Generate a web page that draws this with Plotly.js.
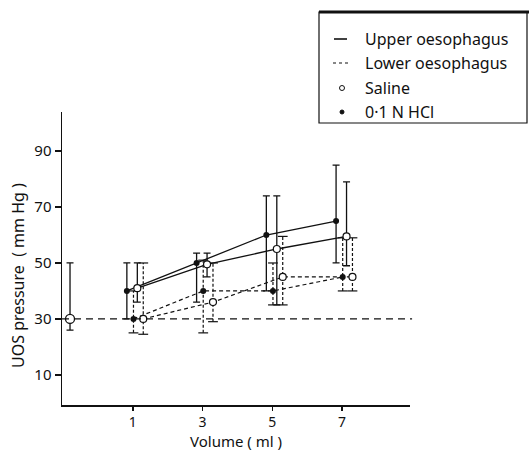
<!DOCTYPE html>
<html>
<head>
<meta charset="utf-8">
<script src="https://cdn.plot.ly/plotly-3.0.1.min.js"></script>
<style>html,body{margin:0;padding:0;background:#fff;}#chart{width:529px;height:451px;}</style>
</head>
<body>
<div id="chart"></div>
<script>
// ---- data ----
const volumes = [1, 3, 5, 7];

const upperHCl       = [40, 50, 60, 65];
const upperHClPlus   = [10, 3.5, 14, 20];
const upperHClMinus  = [10, 14, 20, 15];

const upperSaline      = [41, 49.5, 55, 59.5];
const upperSalinePlus  = [9, 4, 19, 19.5];
const upperSalineMinus = [5, 4.5, 20, 10.5];

const lowerHCl      = [30, 40, 40, 45];
const lowerHClPlus  = [10, 11, 10, 14];
const lowerHClMinus = [5, 15, 5, 5];

const lowerSaline      = [30, 36, 45, 45];
const lowerSalinePlus  = [20, 14, 14.5, 14];
const lowerSalineMinus = [5.5, 7, 10, 5];

const baselineValue = [30];
const baselinePlus  = [20];
const baselineMinus = [4];

const xTicks = [1, 3, 5, 7];
const yTicks = [10, 30, 50, 70, 90];

const legendItems = ['Upper oesophagus', 'Lower oesophagus', 'Saline', '0·1 N HCl'];
const xTitle = 'Volume ( ml )';
const yTitle = 'UOS pressure  ( mm Hg )';

// ---- layout positions / styles ----
const offsets = {upperHCl: -0.17, lowerHCl: 0.02, upperSaline: 0.13, lowerSaline: 0.3};
const baselineX = -0.8;
const FONT = 'Noto Sans, DejaVu Sans, sans-serif';
const BLACK = '#111';

function shift(xs, d) { return xs.map(v => v + d); }

function dashedBarTraces(xs, vals, plus, minus) {
  const bx = [], by = [], cx = [], cy = [];
  for (let i = 0; i < xs.length; i++) {
    bx.push(xs[i], xs[i], null);
    by.push(vals[i] - minus[i], vals[i] + plus[i], null);
    cx.push(xs[i], xs[i]);
    cy.push(vals[i] - minus[i], vals[i] + plus[i]);
  }
  return [
    {x: bx, y: by, mode: 'lines', line: {color: BLACK, width: 1.2, dash: '3px,2px'}, hoverinfo: 'skip', showlegend: false},
    {x: cx, y: cy, mode: 'markers', marker: {symbol: 'line-ew', size: 7, line: {color: BLACK, width: 1.2}}, hoverinfo: 'skip', showlegend: false}
  ];
}

const xUH = shift(volumes, offsets.upperHCl);
const xUS = shift(volumes, offsets.upperSaline);
const xLH = shift(volumes, offsets.lowerHCl);
const xLS = shift(volumes, offsets.lowerSaline);

const traces = [];
traces.push(...dashedBarTraces(xLH, lowerHCl, lowerHClPlus, lowerHClMinus));
traces.push(...dashedBarTraces(xLS, lowerSaline, lowerSalinePlus, lowerSalineMinus));

traces.push({x: xLH, y: lowerHCl, mode: 'lines', line: {color: BLACK, width: 1.2, dash: '4px,3px'}, showlegend: false});
traces.push({x: xLS, y: lowerSaline, mode: 'lines', line: {color: BLACK, width: 1.2, dash: '4px,3px'}, showlegend: false});

traces.push({x: xUH, y: upperHCl, mode: 'lines', line: {color: BLACK, width: 1.3},
  error_y: {type: 'data', symmetric: false, array: upperHClPlus, arrayminus: upperHClMinus, color: BLACK, thickness: 1.3, width: 3.5},
  showlegend: false});
traces.push({x: xUS, y: upperSaline, mode: 'lines', line: {color: BLACK, width: 1.3},
  error_y: {type: 'data', symmetric: false, array: upperSalinePlus, arrayminus: upperSalineMinus, color: BLACK, thickness: 1.3, width: 3.5},
  showlegend: false});

traces.push({x: [baselineX], y: baselineValue, mode: 'markers',
  marker: {symbol: 'circle', size: 9, color: '#fff', line: {color: BLACK, width: 1.3}},
  error_y: {type: 'data', symmetric: false, array: baselinePlus, arrayminus: baselineMinus, color: BLACK, thickness: 1.3, width: 3.5},
  showlegend: false});

traces.push({x: xUH, y: upperHCl, mode: 'markers', marker: {symbol: 'circle', size: 6, color: BLACK}, showlegend: false});
traces.push({x: xLH, y: lowerHCl, mode: 'markers', marker: {symbol: 'circle', size: 6, color: BLACK}, showlegend: false});
traces.push({x: xUS, y: upperSaline, mode: 'markers', marker: {symbol: 'circle', size: 7, color: '#fff', line: {color: BLACK, width: 1.2}}, showlegend: false});
traces.push({x: xLS, y: lowerSaline, mode: 'markers', marker: {symbol: 'circle', size: 7, color: '#fff', line: {color: BLACK, width: 1.2}}, showlegend: false});

// paper coords helpers (plot area 62..410 px, 112..405 px)
function px(x) { return (x - 62) / 348; }
function py(y) { return (405 - y) / 293; }

const legendY = [39, 63, 88, 112];

const shapes = [
  {type: 'line', xref: 'paper', yref: 'y', x0: 0, x1: 1.006, y0: 30, y1: 30, line: {color: BLACK, width: 1.2, dash: '7px,5px'}},
  {type: 'rect', xref: 'paper', yref: 'paper', x0: px(319), x1: px(527), y0: py(123), y1: py(12), line: {color: BLACK, width: 1.2}},
  {type: 'line', xref: 'paper', yref: 'paper', x0: px(319), x1: px(529), y0: py(12), y1: py(12), line: {color: BLACK, width: 3}},
  {type: 'line', xref: 'paper', yref: 'paper', x0: px(334), x1: px(347), y0: py(legendY[0]), y1: py(legendY[0]), line: {color: BLACK, width: 1.6}},
  {type: 'line', xref: 'paper', yref: 'paper', x0: px(333), x1: px(349), y0: py(legendY[1]), y1: py(legendY[1]), line: {color: BLACK, width: 1.2, dash: '3px,3px'}},
  {type: 'circle', xref: 'paper', yref: 'paper', x0: px(339.5), x1: px(344.5), y0: py(legendY[2] + 2.5), y1: py(legendY[2] - 2.5), line: {color: BLACK, width: 1}},
  {type: 'circle', xref: 'paper', yref: 'paper', x0: px(340), x1: px(344), y0: py(legendY[3] + 2), y1: py(legendY[3] - 2), fillcolor: BLACK, line: {color: BLACK, width: 1}}
];

const annotations = legendItems.map((t, i) => ({
  text: t, xref: 'paper', yref: 'paper', x: px(363), y: py(legendY[i]), xanchor: 'left', yanchor: 'middle',
  showarrow: false, font: {family: FONT, size: 16, color: BLACK}
}));
annotations.push({
  text: yTitle, xref: 'paper', yref: 'paper', x: px(18), y: py(276), xanchor: 'center', yanchor: 'middle',
  textangle: -90, showarrow: false, font: {family: FONT, size: 16, color: BLACK}
});
annotations.push({
  text: xTitle, xref: 'paper', yref: 'paper', x: px(236), y: py(441), xanchor: 'center', yanchor: 'middle',
  borderpad: 0, showarrow: false, font: {family: FONT, size: 15, color: BLACK}
});

const layout = {
  width: 529, height: 451,
  margin: {l: 62, r: 119, t: 112, b: 46},
  paper_bgcolor: '#fff', plot_bgcolor: '#fff',
  font: {family: FONT, size: 15, color: BLACK},
  showlegend: false,
  xaxis: {
    range: [-1.03, 8.95], tickvals: xTicks, ticktext: xTicks.map(String),
    showgrid: false, zeroline: false, showline: true, linecolor: BLACK, linewidth: 1.5,
    ticks: 'outside', ticklen: 4, tickwidth: 1.5, tickcolor: BLACK,
    tickfont: {family: FONT, size: 14, color: BLACK}
  },
  yaxis: {
    range: [-0.8, 104], tickvals: yTicks, ticktext: yTicks.map(String),
    showgrid: false, zeroline: false, showline: true, linecolor: BLACK, linewidth: 1.5,
    ticks: 'outside', ticklen: 6, tickwidth: 1.5, tickcolor: BLACK,
    tickfont: {family: FONT, size: 15, color: BLACK}
  },
  shapes: shapes,
  annotations: annotations
};

Plotly.newPlot('chart', traces, layout, {displayModeBar: false, staticPlot: true});
</script>
</body>
</html>
